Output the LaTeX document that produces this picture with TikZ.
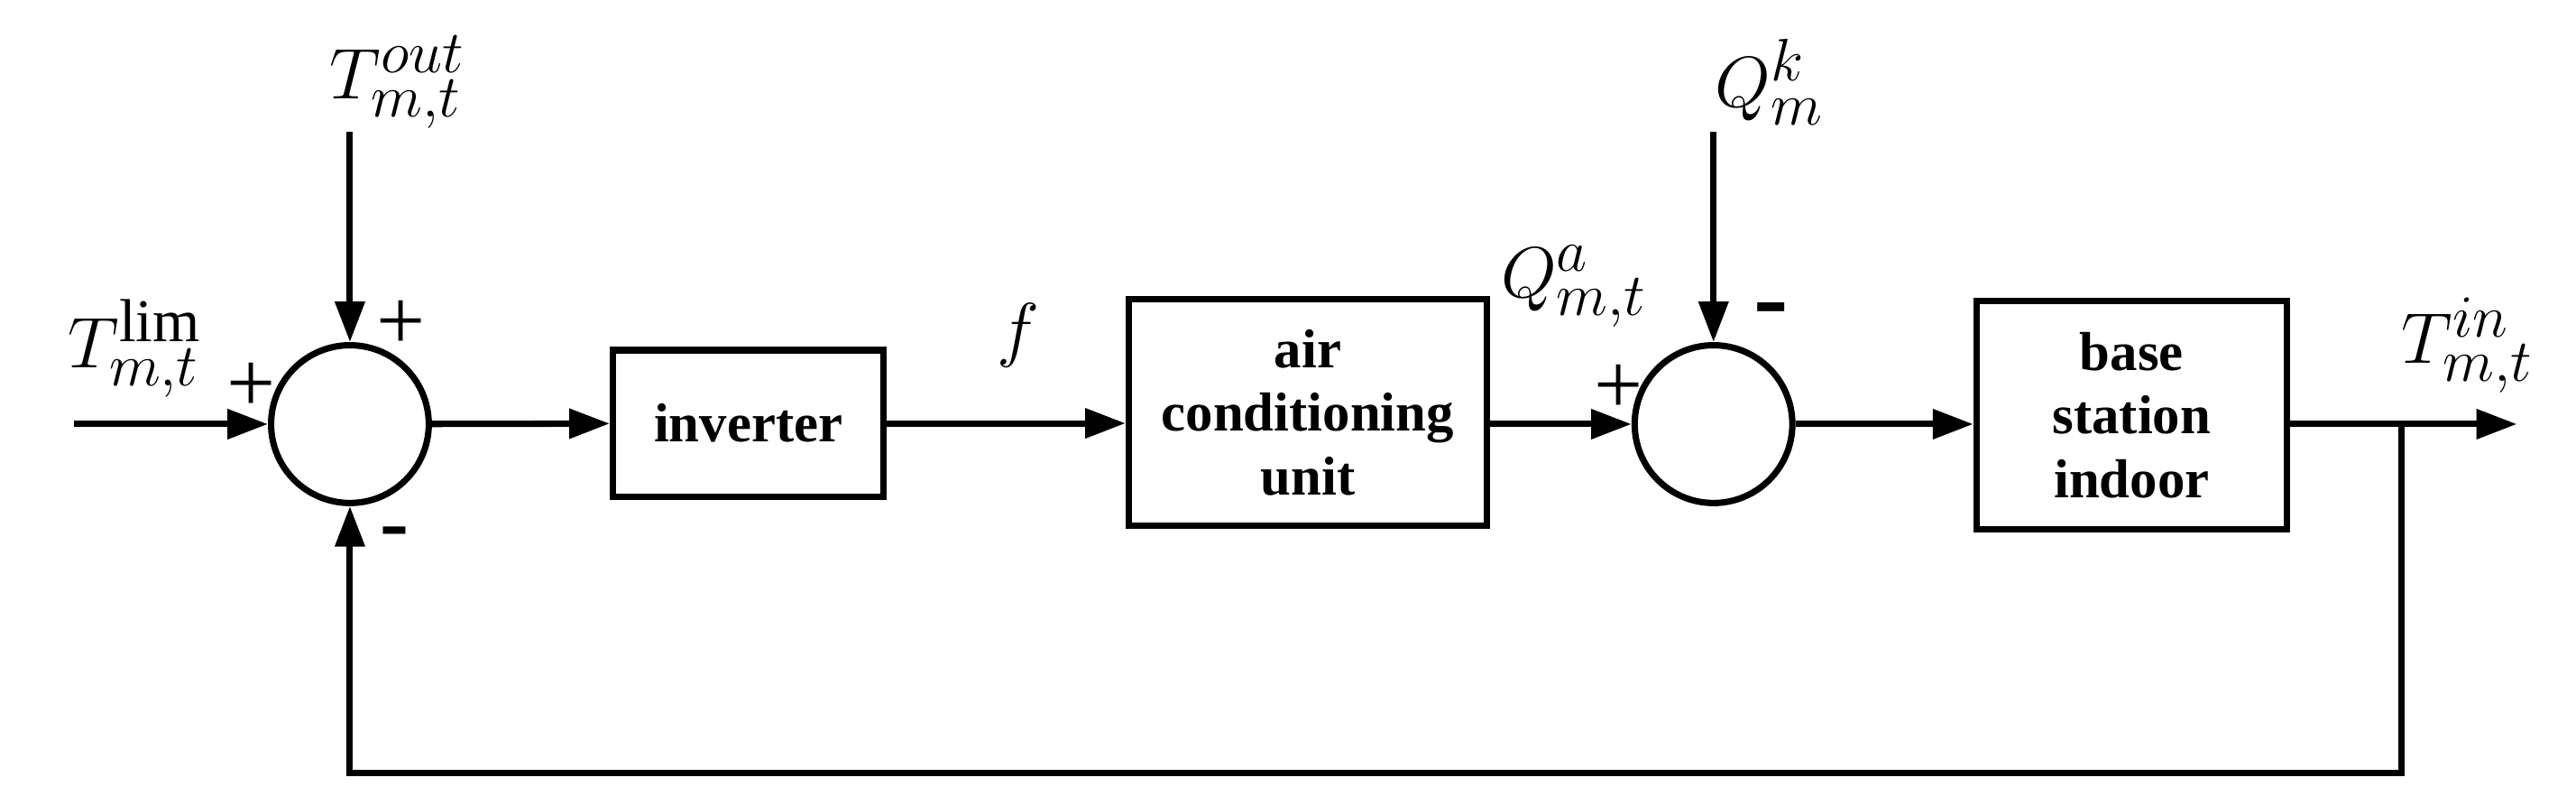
\documentclass[tikz,border=0pt]{standalone}
\usepackage{fontspec}
\setmainfont{Liberation Serif}
\usetikzlibrary{arrows.meta}
\begin{document}
\begin{tikzpicture}[x=0.02cm,y=-0.02cm,
  line width=2.2pt,
  >={Triangle[length=14pt,width=10pt]},
  blk/.style={draw,minimum width=#1,inner sep=0pt,align=center,font=\fontsize{19}{22}\selectfont\bfseries},
  sum/.style={draw,circle,minimum size=1.92cm,inner sep=0pt},
  lab/.style={font=\fontsize{30}{36}\selectfont,inner sep=0pt},
  sgn/.style={font=\fontsize{30}{30}\selectfont,inner sep=0pt}]
\useasboundingbox (0,0) rectangle (1568,484);
\node[sum] (s1) at (213,258) {};
\node[sum] (s2) at (1043,258) {};
\node[blk=3.3cm,minimum height=1.78cm] (inv) at (455.5,257.5) {inverter};
\node[blk=4.36cm,minimum height=2.76cm] (ac) at (796,251) {air\\conditioning\\unit};
\node[blk=3.78cm,minimum height=2.78cm] (bs) at (1297.5,252.5) {base\\station\\indoor};
\coordinate (in) at (45,258);
\coordinate (tout) at (213,80);
\coordinate (qk) at (1043,80);
\coordinate (out) at (1532,258);
\coordinate (br) at (1462,258);
\coordinate (b1) at (1462,470);
\coordinate (b2) at (213,470);
\draw[->] (in) -- (s1);
\draw[->] (tout) -- (s1);
\draw[->] (s1) -- (inv);
\draw[->] (inv.east) -- (ac.west |- inv.east);
\draw[->] (ac.east |- s2.west) -- (s2.west);
\draw[->] (qk) -- (s2);
\draw[->] (s2.east) -- (bs.west |- s2.east);
\draw[->] (bs.east |- out) -- (out);
\draw[->] (br) -- (b1) -- (b2) -- (s1);
\node[lab] (l1) at (82,212) {$T_{m,t}^{\mathrm{lim}}$};
\node[lab] (l2) at (242,50) {$T_{m,t}^{out}$};
\node[lab] (l3) at (620,204) {$f$};
\node[lab] (l4) at (958,174) {$Q_{m,t}^{a}$};
\node[lab] (l5) at (1077,50) {$Q_{m}^{k}$};
\node[lab] (l6) at (1502,210) {$T_{m,t}^{in}$};
\node[sgn] (p1) at (153,236) {+};
\node[sgn] (p2) at (244,198) {+};
\node[sgn,font=\fontsize{30}{30}\selectfont\bfseries] (m1) at (240,328) {-};
\node[sgn] (p3) at (985,237) {+};
\node[sgn,font=\fontsize{36}{36}\selectfont\bfseries] (m2) at (1078,193) {-};
\end{tikzpicture}
\end{document}
